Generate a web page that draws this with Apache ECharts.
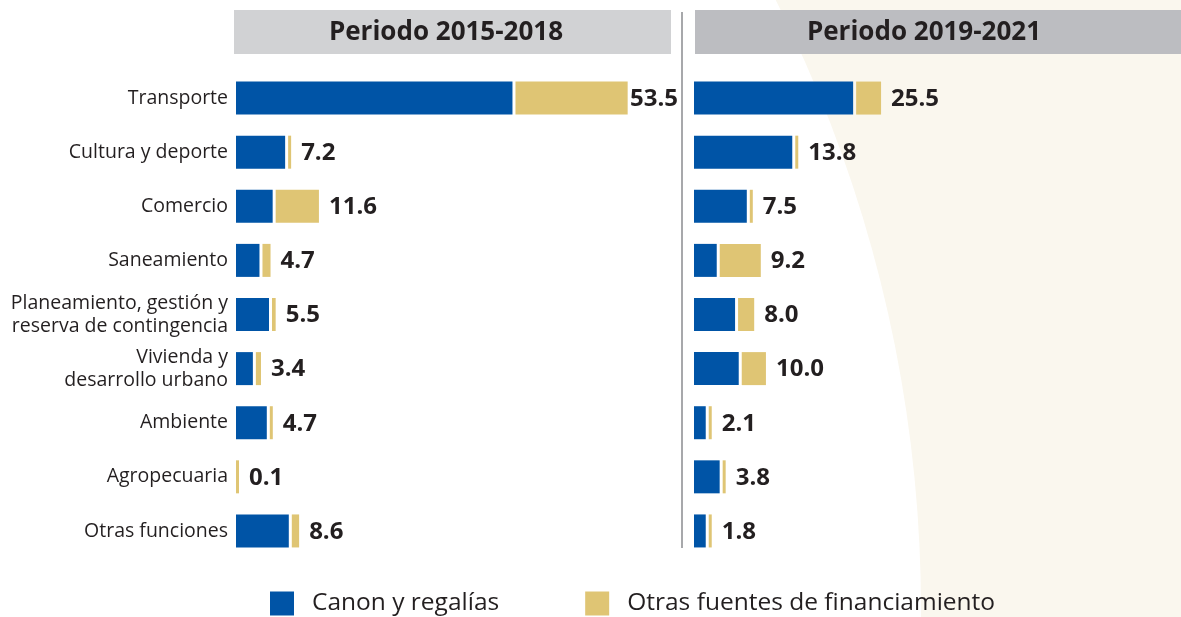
<!DOCTYPE html>
<html>
<head>
<meta charset="utf-8">
<script src="https://cdn.jsdelivr.net/npm/echarts@6/dist/echarts.min.js"></script>
<style>
  html, body { margin: 0; padding: 0; background: #fff; }
  #chart { width: 1181px; height: 617px; }
</style>
</head>
<body>
<div id="chart"></div>
<script>
// categorias (de arriba hacia abajo)
var categories = ['Transporte', 'Cultura y deporte', 'Comercio', 'Saneamiento',
  'Planeamiento, gestión y\nreserva de contingencia', 'Vivienda y\ndesarrollo urbano',
  'Ambiente', 'Agropecuaria', 'Otras funciones'];

// Periodo 2015-2018
var canon1518 = [37.7, 6.7, 5.0, 3.2, 4.5, 2.3, 4.2, 0, 7.2];
var otras1518 = [15.3, 0.3, 5.9, 1.1, 0.5, 0.7, 0.3, 0.1, 1.0];
var total1518 = [53.5, 7.2, 11.6, 4.7, 5.5, 3.4, 4.7, 0.1, 8.6];

// Periodo 2019-2021
var canon1921 = [21.7, 13.4, 7.2, 3.1, 5.6, 6.1, 1.6, 3.5, 1.6];
var otras1921 = [3.4, 0.3, 0.2, 5.6, 2.2, 3.3, 0.3, 0.2, 0.2];
var total1921 = [25.5, 13.8, 7.5, 9.2, 8.0, 10.0, 2.1, 3.8, 1.8];

var BLUE = '#0054a6';
var GOLD = '#dfc574';
var TXT = '#231f20';
var FONT = '"Open Sans", sans-serif';

var myChart = echarts.init(document.getElementById('chart'));

function rows(canon, otras, total) {
  return categories.map(function (c, i) { return [i, canon[i], otras[i], total[i]]; });
}

function renderCanon(params, api) {
  var y = api.value(0);
  var a = api.coord([0, y]);
  var b = api.coord([api.value(1), y]);
  var h = api.size([0, 1])[1] * 0.61;
  if (b[0] - a[0] <= 0) return null;
  return {
    type: 'rect',
    shape: { x: a[0], y: a[1] - h / 2, width: b[0] - a[0], height: h },
    style: { fill: BLUE }
  };
}

// el tramo dorado va separado del azul por una linea blanca, con ancho minimo
function makeRenderOtras(labelMax) {
  return function (params, api) {
    var y = api.value(0);
    var canon = api.value(1);
    var a = api.coord([0, y]);
    var b = api.coord([canon, y]);
    var c = api.coord([canon + api.value(2), y]);
    var h = api.size([0, 1])[1] * 0.61;
    var x0 = canon > 0 ? b[0] + 3 : a[0];
    var w = Math.max(3, c[0] - b[0]);
    var tx = Math.min(x0 + w + 10, labelMax);
    return {
      type: 'group',
      children: [{
        type: 'rect',
        shape: { x: x0, y: a[1] - h / 2, width: w, height: h },
        style: { fill: GOLD }
      }, {
        type: 'text',
        x: tx, y: a[1] + 1,
        style: {
          text: api.value(3).toFixed(1),
          fill: TXT, font: 'bold 24px ' + FONT,
          verticalAlign: 'middle', align: 'left'
        }
      }]
    };
  };
}

var option = {
  backgroundColor: '#fff',
  animation: false,
  textStyle: { fontFamily: FONT },
  graphic: [
    { type: 'rect', z: -10, shape: { x: 0, y: 0, width: 1181, height: 617 }, style: { fill: '#faf7ee' } },
    { type: 'circle', z: -9, shape: { cx: -432, cy: 610, r: 1353 }, style: { fill: '#ffffff' } },
    { type: 'rect', z: -5, shape: { x: 234, y: 10, width: 437, height: 44 }, style: { fill: '#d1d2d4' } },
    { type: 'rect', z: -5, shape: { x: 695, y: 10, width: 486, height: 44 }, style: { fill: '#bcbdc1' } },
    { type: 'text', z: -4, x: 446, y: 33, style: { text: 'Periodo 2015-2018', font: 'bold 26px ' + FONT, fill: TXT, align: 'center', verticalAlign: 'middle' } },
    { type: 'text', z: -4, x: 924, y: 33, style: { text: 'Periodo 2019-2021', font: 'bold 26px ' + FONT, fill: TXT, align: 'center', verticalAlign: 'middle' } },
    { type: 'line', z: -4, shape: { x1: 682, y1: 12, x2: 682, y2: 548 }, style: { stroke: '#a7a8ab', lineWidth: 2 } }
  ],
  legend: {
    left: 265, top: 586,
    itemWidth: 24, itemHeight: 24, itemGap: 86,
    icon: 'rect',
    textStyle: { fontSize: 24.5, color: TXT, fontFamily: FONT, padding: [0, 0, 0, 13] },
    data: [
      { name: 'Canon y regalías', itemStyle: { color: BLUE } },
      { name: 'Otras fuentes de financiamiento', itemStyle: { color: GOLD } }
    ]
  },
  grid: [
    { left: 236, width: 440, top: 71, height: 487 },
    { left: 694, width: 440, top: 71, height: 487 }
  ],
  xAxis: [
    { gridIndex: 0, type: 'value', min: 0, max: 60, show: false },
    { gridIndex: 1, type: 'value', min: 0, max: 60, show: false }
  ],
  yAxis: [
    {
      gridIndex: 0, type: 'category', data: categories, inverse: true,
      axisLine: { show: false }, axisTick: { show: false }, splitLine: { show: false },
      axisLabel: { fontSize: 19.5, color: TXT, fontFamily: FONT, margin: 8, lineHeight: 23 }
    },
    {
      gridIndex: 1, type: 'category', data: categories, inverse: true,
      axisLine: { show: false }, axisTick: { show: false }, splitLine: { show: false },
      axisLabel: { show: false }
    }
  ],
  series: [
    { name: 'Canon y regalías', type: 'custom', xAxisIndex: 0, yAxisIndex: 0,
      itemStyle: { color: BLUE }, renderItem: renderCanon,
      encode: { x: [1, 2], y: 0 }, data: rows(canon1518, otras1518, total1518) },
    { name: 'Otras fuentes de financiamiento', type: 'custom', xAxisIndex: 0, yAxisIndex: 0,
      itemStyle: { color: GOLD }, renderItem: makeRenderOtras(630),
      encode: { x: [1, 2], y: 0 }, data: rows(canon1518, otras1518, total1518) },
    { name: 'Canon y regalías', type: 'custom', xAxisIndex: 1, yAxisIndex: 1,
      itemStyle: { color: BLUE }, renderItem: renderCanon,
      encode: { x: [1, 2], y: 0 }, data: rows(canon1921, otras1921, total1921) },
    { name: 'Otras fuentes de financiamiento', type: 'custom', xAxisIndex: 1, yAxisIndex: 1,
      itemStyle: { color: GOLD }, renderItem: makeRenderOtras(1120),
      encode: { x: [1, 2], y: 0 }, data: rows(canon1921, otras1921, total1921) }
  ]
};

myChart.setOption(option);
window.addEventListener('resize', function () { myChart.resize(); });
</script>
</body>
</html>
